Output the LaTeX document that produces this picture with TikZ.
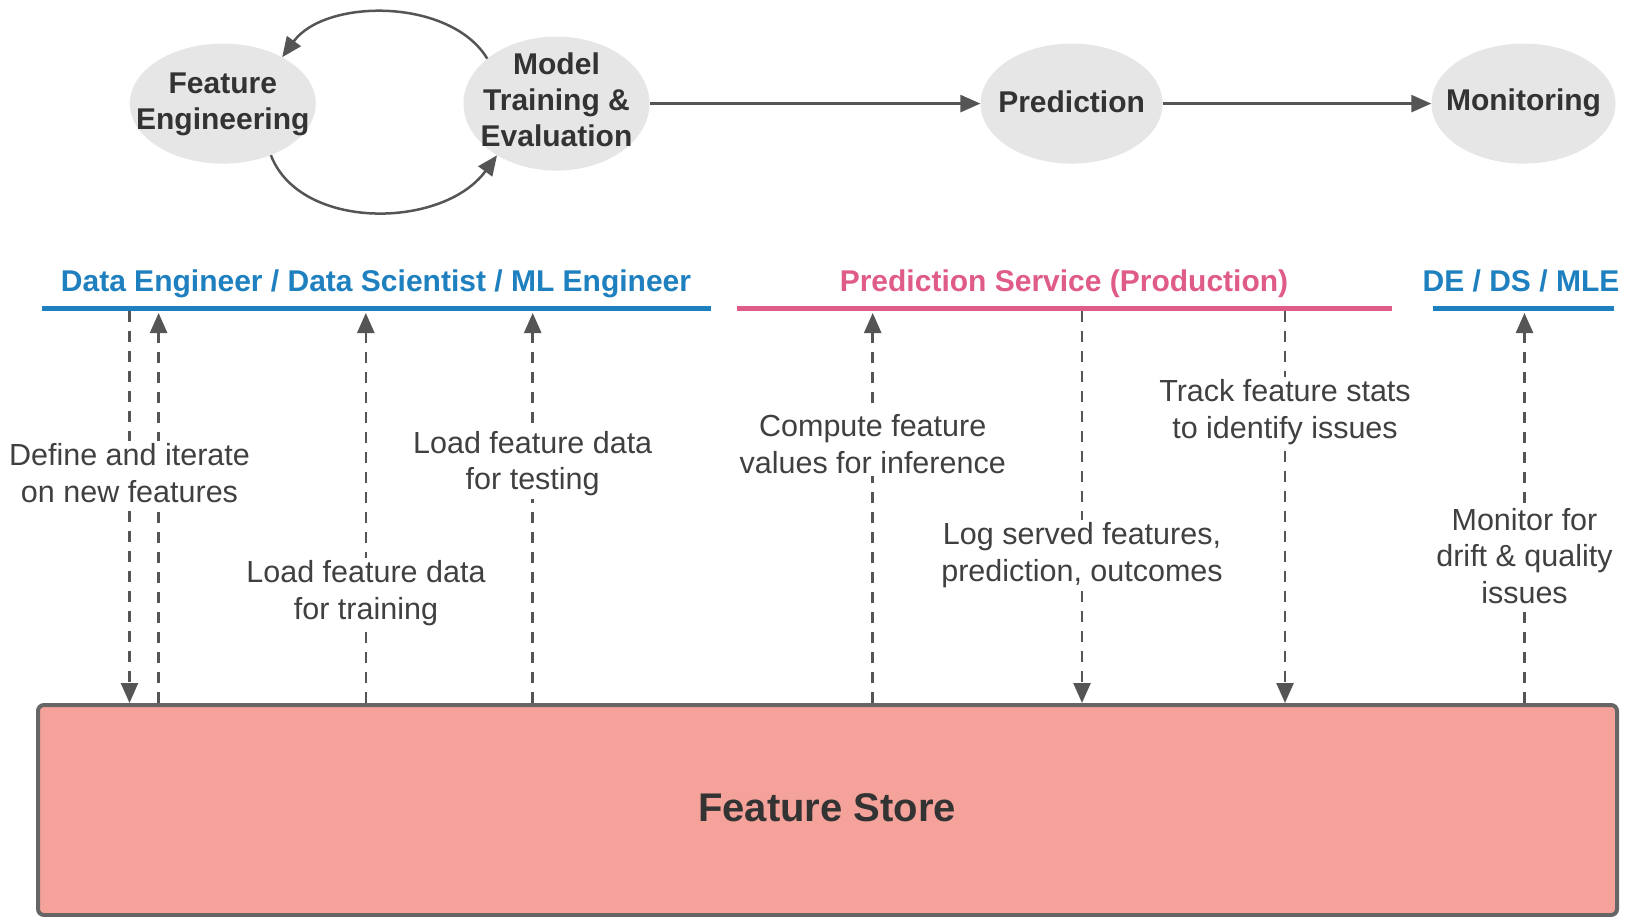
\documentclass[tikz,border=0pt]{standalone}
\usepackage{fontspec}
\setmainfont{Liberation Sans}
\usetikzlibrary{arrows.meta,shapes.geometric}
\definecolor{ellfill}{HTML}{E6E6E6}
\definecolor{txtdark}{HTML}{333333}
\definecolor{txtlab}{HTML}{404040}
\definecolor{arrgray}{HTML}{555555}
\definecolor{hblue}{HTML}{1F80C0}
\definecolor{hpink}{HTML}{E05C88}
\definecolor{storefill}{HTML}{F4A29A}
\definecolor{storeedge}{HTML}{666666}
\begin{document}
\begin{tikzpicture}[x=1pt,y=-1pt,
  ell/.style={ellipse, fill=ellfill, draw=none, inner sep=0pt},
  elltext/.style={align=center, inner sep=0pt, text=txtdark, font=\fontsize{30}{36}\selectfont\bfseries},
  flowarr/.style={draw=arrgray, line width=2.5pt, -{Triangle[length=20pt,width=17pt]}},
  hdr/.style={font=\fontsize{30}{36}\selectfont\bfseries, inner sep=0pt, anchor=base},
  hline/.style={line width=5pt},
  dasharr/.style={draw=arrgray, line width=2.5pt, dash pattern=on 11pt off 9pt, -{Triangle[length=20pt,width=17pt]}},
  lab/.style={align=center, fill=white, inner sep=3pt, text=txtlab, font=\fontsize{30.5}{36.5}\selectfont},
  store/.style={draw=storeedge, line width=4pt, fill=storefill, rounded corners=6pt, inner sep=0pt}
]
\useasboundingbox[fill=white] (0,0) rectangle (1625,917);

% top flow
\node[ell, minimum width=186pt, minimum height=120pt] (fe) at (222.8,103.6) {};
\node[elltext] (fet) at (222.8,104.5) {Feature\\Engineering};
\node[ell, minimum width=186pt, minimum height=134pt] (mt) at (556.5,103.6) {};
\node[elltext] (mtt) at (556.5,99.5) {Model\\Training \&\\Evaluation};
\node[ell, minimum width=182pt, minimum height=120pt] (pred) at (1071.6,103.6) {};
\node[elltext] (predt) at (1071.6,101.5) {Prediction};
\node[ell, minimum width=184pt, minimum height=120pt] (mon) at (1523.5,103.6) {};
\node[elltext] (mont) at (1523.5,102.5) {Monitoring};

\draw[flowarr] (mt) -- (pred);
\draw[flowarr] (pred) -- (mon);
\draw[flowarr] (mt.147) .. controls +(-37,-61) and +(43,-59) .. (fe.38);
\draw[flowarr] (fe.-47) .. controls +(29,76) and +(-54,74) .. (mt.221);

% headers
\node[hdr, text=hblue] (h1) at (376,291.5) {Data Engineer / Data Scientist / ML Engineer};
\node[hdr, text=hpink] (h2) at (1064,291.5) {Prediction Service (Production)};
\node[hdr, text=hblue] (h3) at (1521,291.5) {DE / DS / MLE};
\coordinate (l1a) at (41.5,309);
\coordinate (l1b) at (711,309);
\coordinate (l2a) at (737,309);
\coordinate (l2b) at (1392,309);
\coordinate (l3a) at (1433,309);
\coordinate (l3b) at (1614,309);
\draw[hline, draw=hblue] (l1a) -- (l1b);
\draw[hline, draw=hpink] (l2a) -- (l2b);
\draw[hline, draw=hblue] (l3a) -- (l3b);

% feature store
\node[store, minimum width=1579pt, minimum height=210pt] (store) at (827.5,810) {};
\node[font=\fontsize{40}{48}\selectfont\bfseries, text=txtdark, inner sep=0pt] (storet) at (827,808) {Feature Store};

% vertical connectors
\coordinate (c1) at (129.5,311);
\coordinate (c2) at (158.6,313);
\coordinate (c3) at (365.8,313);
\coordinate (c4) at (532.7,313);
\coordinate (c5) at (872.7,313);
\coordinate (c6) at (1082,311);
\coordinate (c7) at (1285,311);
\coordinate (c8) at (1524.5,313);

\draw[dasharr] (c1) -- (c1 |- store.north);
\draw[dasharr] (c2 |- store.north) -- (c2);
\draw[dasharr] (c3 |- store.north) -- (c3);
\draw[dasharr] (c4 |- store.north) -- (c4);
\draw[dasharr] (c5 |- store.north) -- (c5);
\draw[dasharr] (c6) -- (c6 |- store.north);
\draw[dasharr] (c7) -- (c7 |- store.north);
\draw[dasharr] (c8 |- store.north) -- (c8);

% labels
\node[lab] (t1) at (129.5,473) {Define and iterate\\on new features};
\node[lab] (t3) at (366,593) {Load feature data\\for training};
\node[lab] (t4) at (532.7,463.5) {Load feature data\\for testing};
\node[lab] (t5) at (872.7,444) {Compute feature\\values for inference};
\node[lab] (t6) at (1082,555) {Log served features,\\prediction, outcomes};
\node[lab] (t7) at (1285,412) {Track feature stats\\to identify issues};
\node[lab] (t8) at (1524.5,556) {Monitor for\\drift \& quality\\issues};
\end{tikzpicture}
\end{document}
